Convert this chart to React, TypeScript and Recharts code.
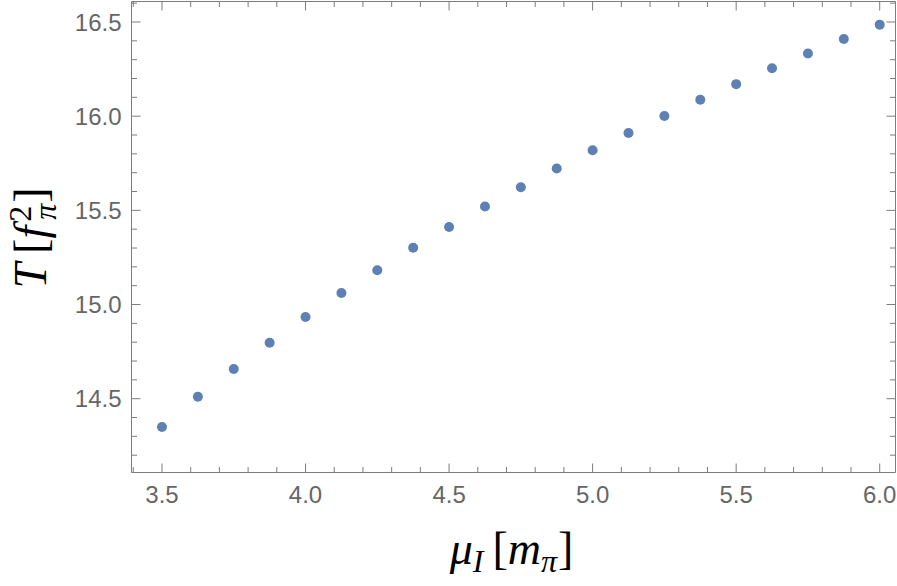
import { ScatterChart, Scatter, XAxis, YAxis } from "recharts";

// isospin chemical potential mu_I [m_pi] and the value T [f_pi^2]
const muI = [
  3.5, 3.625, 3.75, 3.875, 4.0, 4.125, 4.25, 4.375, 4.5, 4.625, 4.75,
  4.875, 5.0, 5.125, 5.25, 5.375, 5.5, 5.625, 5.75, 5.875, 6.0,
];
const tension = [
  14.35, 14.51, 14.658, 14.797, 14.934, 15.061, 15.182, 15.301, 15.412,
  15.52, 15.623, 15.722, 15.819, 15.911, 16.001, 16.087, 16.17, 16.254,
  16.333, 16.41, 16.486,
];

const xTicks = [
  3.4, 3.5, 3.6, 3.7, 3.8, 3.9, 4.0, 4.1, 4.2, 4.3, 4.4, 4.5, 4.6, 4.7,
  4.8, 4.9, 5.0, 5.1, 5.2, 5.3, 5.4, 5.5, 5.6, 5.7, 5.8, 5.9, 6.0,
];
const yTicks = [
  14.2, 14.3, 14.4, 14.5, 14.6, 14.7, 14.8, 14.9, 15.0, 15.1, 15.2, 15.3,
  15.4, 15.5, 15.6, 15.7, 15.8, 15.9, 16.0, 16.1, 16.2, 16.3, 16.4, 16.5,
  16.6,
];
const xDomain = [3.3938, 6.055];
const yDomain = [14.1082, 16.6088];

const FRAME = "#7c7c7c";
const TICK_TEXT = "#666666";
const DOT = "#5e81b5";
const TICK_FONT = "'Liberation Sans', Arial, sans-serif";
const MATH_FONT = "'Liberation Serif', 'Times New Roman', serif";

const MAJOR = 9;
const MINOR = 5.5;

const isMajor = (v: number) => Math.abs(v * 2 - Math.round(v * 2)) < 1e-6;

function BottomTick({ x, y, payload }: any) {
  const major = isMajor(payload.value);
  return (
    <g>
      <line x1={x} x2={x} y1={y} y2={y - (major ? MAJOR : MINOR)} stroke={FRAME} />
      {major && (
        <text
          x={x}
          y={y + 30.5}
          textAnchor="middle"
          fill={TICK_TEXT}
          fontFamily={TICK_FONT}
          fontSize={24}
        >
          {payload.value.toFixed(1)}
        </text>
      )}
    </g>
  );
}

function TopTick({ x, y, payload }: any) {
  const len = isMajor(payload.value) ? MAJOR : MINOR;
  return <line x1={x} x2={x} y1={y} y2={y + len} stroke={FRAME} />;
}

function LeftTick({ x, y, payload }: any) {
  const major = isMajor(payload.value);
  return (
    <g>
      <line x1={x} x2={x + (major ? MAJOR : MINOR)} y1={y} y2={y} stroke={FRAME} />
      {major && (
        <text
          x={x - 10}
          y={y + 8.6}
          textAnchor="end"
          fill={TICK_TEXT}
          fontFamily={TICK_FONT}
          fontSize={24}
        >
          {payload.value.toFixed(1)}
        </text>
      )}
    </g>
  );
}

function RightTick({ x, y, payload }: any) {
  const len = isMajor(payload.value) ? MAJOR : MINOR;
  return <line x1={x} x2={x - len} y1={y} y2={y} stroke={FRAME} />;
}

function XTitle({ viewBox }: any) {
  const cx = viewBox.x + viewBox.width / 2 - 2;
  return (
    <text x={cx} y={564} textAnchor="middle" fontFamily={MATH_FONT} fontSize={46} fill="#000">
      <tspan fontStyle="italic">μ</tspan>
      <tspan fontStyle="italic" fontSize={32} dy={8}>I</tspan>
      <tspan dy={-8} dx={9}>[</tspan>
      <tspan fontStyle="italic">m</tspan>
      <tspan fontStyle="italic" fontSize={32} dy={8}>π</tspan>
      <tspan dy={-8} dx={1}>]</tspan>
    </text>
  );
}

function YTitle({ viewBox }: any) {
  const cy = viewBox.y + viewBox.height / 2 + 1;
  const cx = 46;
  return (
    <text
      x={cx}
      y={cy}
      transform={`rotate(-90 ${cx} ${cy})`}
      textAnchor="middle"
      fontFamily={MATH_FONT}
      fontSize={46}
      fill="#000"
    >
      <tspan fontStyle="italic">T</tspan>
      <tspan dx={9}>[</tspan>
      <tspan fontStyle="italic">f</tspan>
      <tspan fontSize={32} dy={-15} dx={4}>2</tspan>
      <tspan fontStyle="italic" fontSize={32} dy={25} dx={-14}>π</tspan>
      <tspan dy={-10} dx={1}>]</tspan>
    </text>
  );
}

const Dot = (props: any) => <circle cx={props.cx} cy={props.cy} r={5} fill={DOT} />;

export default function App() {
  const data = muI.map((m, i) => ({ x: m, y: tension[i] }));

  return (
    <div style={{ position: "absolute", left: 0, top: 0, background: "#fff" }}>
      <ScatterChart
        width={897}
        height={586}
        margin={{ top: 0.5, right: 0, bottom: 0, left: 0 }}
      >
        <XAxis
          xAxisId="bottom"
          dataKey="x"
          type="number"
          orientation="bottom"
          domain={xDomain}
          allowDataOverflow
          ticks={xTicks}
          interval={0}
          height={113.5}
          tickSize={0}
          tickMargin={0}
          tickLine={false}
          axisLine={{ stroke: FRAME }}
          tick={<BottomTick />}
          label={{ position: "center", content: (p: any) => <XTitle {...p} /> }}
        />
        <XAxis
          xAxisId="top"
          dataKey="x"
          type="number"
          orientation="top"
          domain={xDomain}
          allowDataOverflow
          ticks={xTicks}
          interval={0}
          height={1}
          tickSize={0}
          tickMargin={0}
          tickLine={false}
          axisLine={{ stroke: FRAME }}
          tick={<TopTick />}
        />
        <YAxis
          yAxisId="left"
          dataKey="y"
          type="number"
          orientation="left"
          domain={yDomain}
          allowDataOverflow
          ticks={yTicks}
          interval={0}
          width={131.5}
          tickSize={0}
          tickMargin={0}
          tickLine={false}
          axisLine={{ stroke: FRAME }}
          tick={<LeftTick />}
          label={{ position: "center", content: (p: any) => <YTitle {...p} /> }}
        />
        <YAxis
          yAxisId="right"
          dataKey="y"
          type="number"
          orientation="right"
          domain={yDomain}
          allowDataOverflow
          ticks={yTicks}
          interval={0}
          width={1.5}
          tickSize={0}
          tickMargin={0}
          tickLine={false}
          axisLine={{ stroke: FRAME }}
          tick={<RightTick />}
        />
        <Scatter
          data={data}
          xAxisId="bottom"
          yAxisId="left"
          shape={Dot}
          isAnimationActive={false}
        />
        <Scatter
          data={data}
          xAxisId="top"
          yAxisId="right"
          shape={() => <g />}
          isAnimationActive={false}
        />
      </ScatterChart>
    </div>
  );
}
